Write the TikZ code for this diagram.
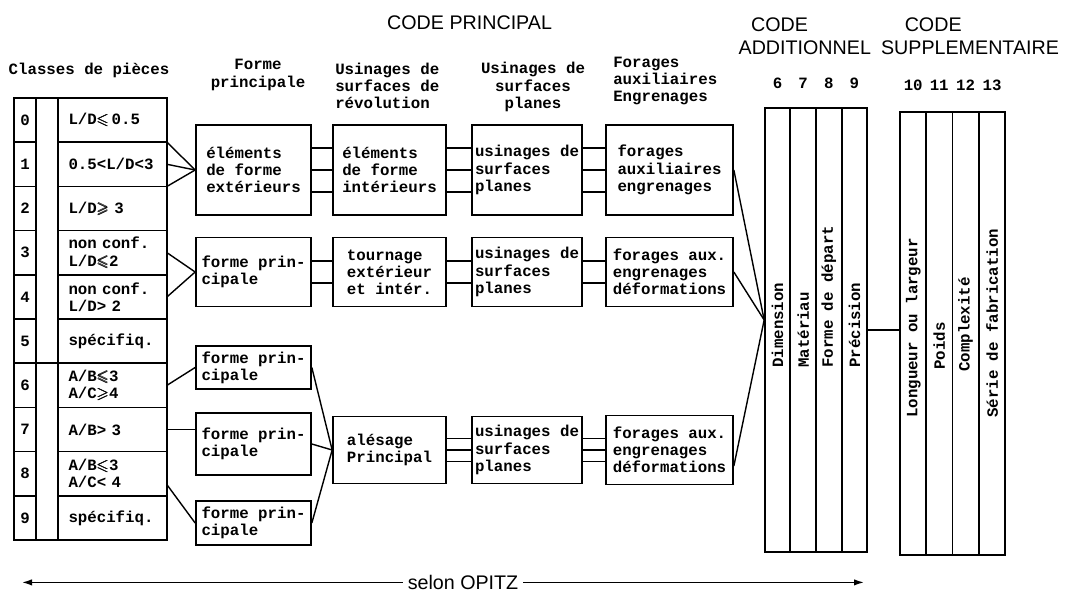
\documentclass[tikz,border=0pt]{standalone}
\usepackage{amsmath}
\usepackage{amssymb}
\usepackage{fontspec}
\setsansfont{Liberation Sans}
\setmonofont{Liberation Mono}
\usetikzlibrary{arrows.meta,calc,positioning}
\newcommand{\twfont}{\fontsize{11.2}{12.2}\selectfont\ttfamily\bfseries}
\newcommand{\cle}{$\pmb{\leqslant}$}
\newcommand{\cge}{$\pmb{\geqslant}$}

\begin{document}
\begin{tikzpicture}[
  title/.style={font=\sffamily\fontsize{14}{16}\selectfont},
  header/.style={font=\twfont, inner sep=0pt},
  numcell/.style={draw, line width=1.2pt, outer sep=0pt, minimum width=0.55cm,
                  minimum height=1.105cm, font=\twfont},
  classcell/.style={draw, line width=1.2pt, outer sep=0pt, minimum width=2.725cm,
                    minimum height=1.105cm, text width=2.2cm, inner xsep=0.26cm,
                    inner ysep=1pt, align=left, font=\twfont},
  stage/.style={draw, line width=1.2pt, align=left, inner xsep=2pt, font=\twfont},
  formbox/.style={stage, minimum width=2.875cm},
  revbox/.style={stage, minimum width=2.825cm},
  planbox/.style={stage, minimum width=2.75cm},
  drillbox/.style={stage, minimum width=3.175cm},
  codebox/.style={draw, line width=1.2pt, minimum height=11.1cm},
  vlabel/.style={font=\twfont, rotate=90, anchor=west, inner sep=0pt},
  link/.style={line width=1pt},
  arrow/.style={line width=1pt, -{Latex[length=2.5mm,width=1.6mm]}},
]
  \useasboundingbox (0,0) rectangle (26.8,-14.875);

  % Titles.
  \node[title] (principal) at (11.74,-0.58) {CODE PRINCIPAL};
  \node[title] (addcode) at (19.49,-0.61) {CODE};
  \node[title] (addname) at (20.12,-1.19) {ADDITIONNEL};
  \node[title] (supcode) at (23.33,-0.61) {CODE};
  \node[title] (supname) at (24.25,-1.19) {SUPPLEMENTAIRE};

  % Column headers.
  \node[header] (hclass) at (2.225,-1.75) {Classes de pièces};
  \node[header, align=center] (hform) at (6.45,-1.875) {Forme\\principale};
  \node[header, align=left, anchor=west] (hrev) at (8.375,-2.15)
       {Usinages de\\surfaces de\\révolution};
  \node[header, align=center] (hplan) at (13.325,-2.175) {Usinages de\\surfaces\\planes};
  \node[header, align=left, anchor=west] (hdrill) at (15.325,-2.025)
       {Forages\\auxiliaires\\Engrenages};
  \node[header] (a6) at (19.44,-2.075) {6};
  \node[header] (a7) at (20.08,-2.075) {7};
  \node[header] (a8) at (20.72,-2.075) {8};
  \node[header] (a9) at (21.36,-2.075) {9};
  \node[header] (s10) at (22.83,-2.125) {10};
  \node[header] (s11) at (23.48,-2.125) {11};
  \node[header] (s12) at (24.14,-2.125) {12};
  \node[header] (s13) at (24.80,-2.125) {13};

  % Classes of parts.
  \node[numcell] (n0) at (0.625,-3.0025) {0};
  \node[numcell, below=0pt of n0] (n1) {1};
  \node[numcell, below=0pt of n1] (n2) {2};
  \node[numcell, below=0pt of n2] (n3) {3};
  \node[numcell, below=0pt of n3] (n4) {4};
  \node[numcell, below=0pt of n4] (n5) {5};
  \node[numcell, below=0pt of n5] (n6) {6};
  \node[numcell, below=0pt of n6] (n7) {7};
  \node[numcell, below=0pt of n7] (n8) {8};
  \node[numcell, below=0pt of n8] (n9) {9};
  \node[classcell, right=0.55cm of n0] (c0) {L/D\cle\,0.5};
  \node[classcell, right=0.55cm of n1] (c1) {0.5<L/D<3};
  \node[classcell, right=0.55cm of n2] (c2) {L/D\cge\ 3};
  \node[classcell, right=0.55cm of n3] (c3) {non conf.\\L/D\cle 2};
  \node[classcell, right=0.55cm of n4] (c4) {non conf.\\L/D> 2};
  \node[classcell, right=0.55cm of n5] (c5) {spécifiq.};
  \node[classcell, right=0.55cm of n6] (c6) {A/B\cle 3\\A/C\cge 4};
  \node[classcell, right=0.55cm of n7] (c7) {A/B> 3};
  \node[classcell, right=0.55cm of n8] (c8) {A/B\cle 3\\A/C< 4};
  \node[classcell, right=0.55cm of n9] (c9) {spécifiq.};
  \draw[line width=1.2pt] (n0.north east) rectangle (c5.south west);
  \draw[line width=1.2pt] (n6.north east) rectangle (c9.south west);

  % Main form.
  \node[formbox, minimum height=2.25cm] (ext) at (6.3375,-4.25) {éléments\\de forme\\extérieurs};
  \node[formbox, minimum height=1.72cm] (fpa) at (6.3375,-6.8) {forme prin-\\cipale};
  \node[formbox, minimum height=1.075cm, inner ysep=1pt] (fpb) at (6.3375,-9.1875) {forme prin-\\cipale};
  \node[formbox, minimum height=1.55cm] (fpc) at (6.3375,-11.1) {forme prin-\\cipale};
  \node[formbox, minimum height=1.1cm, inner ysep=1pt] (fpd) at (6.3375,-13.075) {forme prin-\\cipale};

  % Surfaces of revolution.
  \node[revbox, minimum height=2.25cm] (int) at (9.7375,-4.25) {éléments\\de forme\\intérieurs};
  \node[revbox, minimum height=1.72cm] (turn) at (9.7375,-6.8) {tournage\\extérieur\\et intér.};
  \node[revbox, minimum height=1.68cm] (bore) at (9.7375,-11.25) {alésage\\Principal};

  % Plane surfaces.
  \node[planbox, minimum height=2.25cm] (plana) at (13.175,-4.25) {usinages de\\surfaces\\planes};
  \node[planbox, minimum height=1.72cm] (planb) at (13.175,-6.8) {usinages de\\surfaces\\planes};
  \node[planbox, minimum height=1.68cm] (planc) at (13.175,-11.25) {usinages de\\surfaces\\planes};

  % Auxiliary drillings.
  \node[drillbox, minimum height=2.25cm] (drilla) at (16.7375,-4.25) {forages\\auxiliaires\\engrenages};
  \node[drillbox, minimum height=1.72cm] (drillb) at (16.7375,-6.8) {forages aux.\\engrenages\\déformations};
  \node[drillbox, minimum height=1.72cm] (drillc) at (16.7375,-11.25) {forages aux.\\engrenages\\déformations};

  % Additional and supplementary codes.
  \node[codebox, minimum width=2.55cm] (add) at (20.4,-8.25) {};
  \node[codebox, minimum width=2.625cm, minimum height=11.075cm] (sup) at (23.8125,-8.3375) {};
  \foreach \f in {0.25,0.5,0.75} {
    \draw[line width=1.2pt] ($(add.north west)!\f!(add.north east)$) -- ($(add.south west)!\f!(add.south east)$);
    \draw[line width=1.2pt] ($(sup.north west)!\f!(sup.north east)$) -- ($(sup.south west)!\f!(sup.south east)$);
  }
  \node[vlabel] (dim) at (19.44,-9.2) {Dimension};
  \node[vlabel] (mat) at (20.08,-9.2) {Matériau};
  \node[vlabel] (dep) at (20.72,-9.2) {Forme de départ};
  \node[vlabel] (prec) at (21.36,-9.2) {Précision};
  \node[vlabel] (lon) at (22.83,-10.45) {Longueur ou largeur};
  \node[vlabel] (wt) at (23.48,-9.25) {Poids};
  \node[vlabel] (cpx) at (24.14,-9.3) {Complexité};
  \node[vlabel] (ser) at (24.80,-10.45) {Série de fabrication};

  % Links from the classes.
  \draw[link] (c1.north east) -- (ext.west);
  \draw[link] (c1.east) -- (ext.west);
  \draw[link] (c1.south east) -- (ext.west);
  \draw[link] (c3.east) -- (fpa.west);
  \draw[link] (c4.east) -- (fpa.west);
  \draw[link] (c6.east) -- (fpb.west);
  \draw[link] (c7.east) -- (c7.east -| fpc.west);
  \draw[link] ($(c8.east)!0.5!(c8.south east)$) -- (fpd.west);
  \draw[link] (fpb.east) -- (bore.west);
  \draw[link] (fpc.east) -- (bore.west);
  \draw[link] (fpd.east) -- (bore.west);

  % Parallel links between the stages.
  \foreach \dy in {-0.55,0,0.55} {
    \draw[link] ($(ext.east)+(0,\dy)$) -- ($(int.west)+(0,\dy)$);
    \draw[link] ($(int.east)+(0,\dy)$) -- ($(plana.west)+(0,\dy)$);
    \draw[link] ($(plana.east)+(0,\dy)$) -- ($(drilla.west)+(0,\dy)$);
  }
  \foreach \dy in {-0.27,0.27} {
    \draw[link] ($(fpa.east)+(0,\dy)$) -- ($(turn.west)+(0,\dy)$);
    \draw[link] ($(turn.east)+(0,\dy)$) -- ($(planb.west)+(0,\dy)$);
    \draw[link] ($(planb.east)+(0,\dy)$) -- ($(drillb.west)+(0,\dy)$);
  }
  \foreach \dy in {-0.29,0,0.29} {
    \draw[link] ($(bore.east)+(0,\dy)$) -- ($(planc.west)+(0,\dy)$);
    \draw[link] ($(planc.east)+(0,\dy)$) -- ($(drillc.west)+(0,\dy)$);
  }

  % Into the additional code.
  \coordinate (hub) at ($(add.west)+(0,0.25)$);
  \draw[link] (drilla.east) -- (hub);
  \draw[link] (drillb.east) -- (hub);
  \draw[link] ($(drillc.east)+(0,-0.4)$) -- (hub);
  \draw[link] (add.east) -- (add.east -| sup.west);

  % Scope of the Opitz code.
  \node[title, inner ysep=1pt] (opitz) at (11.575,-14.56) {selon OPITZ};
  \coordinate (opitzl) at (0.55,-14.56);
  \coordinate (opitzr) at (21.6,-14.56);
  \draw[arrow] (opitz.west) -- (opitzl);
  \draw[arrow] (opitz.east) -- (opitzr);

\end{tikzpicture}
\end{document}
